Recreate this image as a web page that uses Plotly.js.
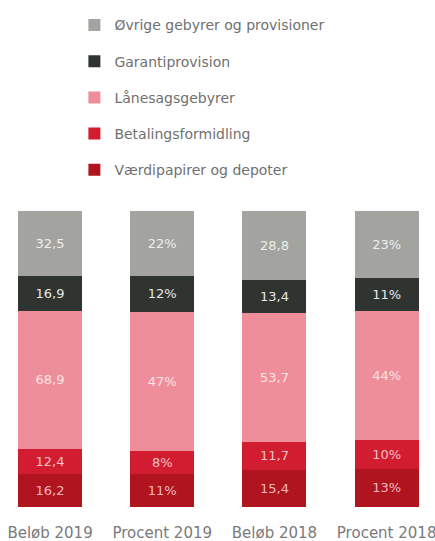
<!DOCTYPE html>
<html>
<head>
<meta charset="utf-8">
<script src="https://cdn.plot.ly/plotly-3.0.1.min.js"></script>
<style>html,body{margin:0;padding:0;background:#fff;}#chart{width:435px;height:541px;}</style>
</head>
<body>
<div id="chart"></div>
<script>
const categories = ["Beløb 2019", "Procent 2019", "Beløb 2018", "Procent 2018"];
// values per category, bottom to top of stack
const vaerdipapirer = [16.2, 11, 15.4, 13];
const betaling = [12.4, 8, 11.7, 10];
const laanesag = [68.9, 47, 53.7, 44];
const garanti = [16.9, 12, 13.4, 11];
const oevrige = [32.5, 22, 28.8, 23];
const vaerdipapirerText = ["16,2", "11%", "15,4", "13%"];
const betalingText = ["12,4", "8%", "11,7", "10%"];
const laanesagText = ["68,9", "47%", "53,7", "44%"];
const garantiText = ["16,9", "12%", "13,4", "11%"];
const oevrigeText = ["32,5", "22%", "28,8", "23%"];
const seriesNames = ["Værdipapirer og depoter", "Betalingsformidling", "Lånesagsgebyrer", "Garantiprovision", "Øvrige gebyrer og provisioner"];
const seriesColors = ["#b0141f", "#d21c30", "#ef8e9b", "#2f3431", "#a3a39f"];
const textColors = ["#f2b8bf", "#f5c0c7", "#fbe3e6", "#e6e6e6", "#eeeeee"];

const vals = [vaerdipapirer, betaling, laanesag, garanti, oevrige];
const texts = [vaerdipapirerText, betalingText, laanesagText, garantiText, oevrigeText];

const traces = vals.map((v, i) => ({
  type: "bar",
  x: categories,
  y: v,
  name: seriesNames[i],
  legendgroup: "g" + i,
  legendrank: 5 - i,
  marker: {color: seriesColors[i], line: {width: 0}},
  text: texts[i],
  textposition: "inside",
  insidetextanchor: "middle",
  textangle: 0,
  constraintext: "none",
  textfont: {family: "DejaVu Sans, sans-serif", size: 13, color: textColors[i]},
  hoverinfo: "none"
}));

const layout = {
  width: 435,
  height: 541,
  margin: {l: 0, r: 0, t: 211, b: 34, pad: 0},
  paper_bgcolor: "#ffffff",
  plot_bgcolor: "#ffffff",
  barmode: "stack",
  barnorm: "percent",
  bargap: 0.43,
  showlegend: true,
  legend: {
    x: 0.171, xanchor: "left",
    y: 1.681, yanchor: "top",
    traceorder: "grouped",
    tracegroupgap: 15,
    font: {family: "DejaVu Sans, sans-serif", size: 14, color: "#707070"},
    bgcolor: "rgba(0,0,0,0)"
  },
  xaxis: {
    type: "category",
    range: [-0.446, 3.431],
    showgrid: false, zeroline: false, showline: false,
    ticks: "", ticklabelstandoff: 15,
    tickfont: {family: "DejaVu Sans, sans-serif", size: 15, color: "#7a7a7a"}
  },
  yaxis: {
    range: [0, 100],
    visible: false,
    showgrid: false, zeroline: false
  },
  uniformtext: {mode: false}
};

Plotly.newPlot("chart", traces, layout, {displayModeBar: false, staticPlot: true});
</script>
</body>
</html>
